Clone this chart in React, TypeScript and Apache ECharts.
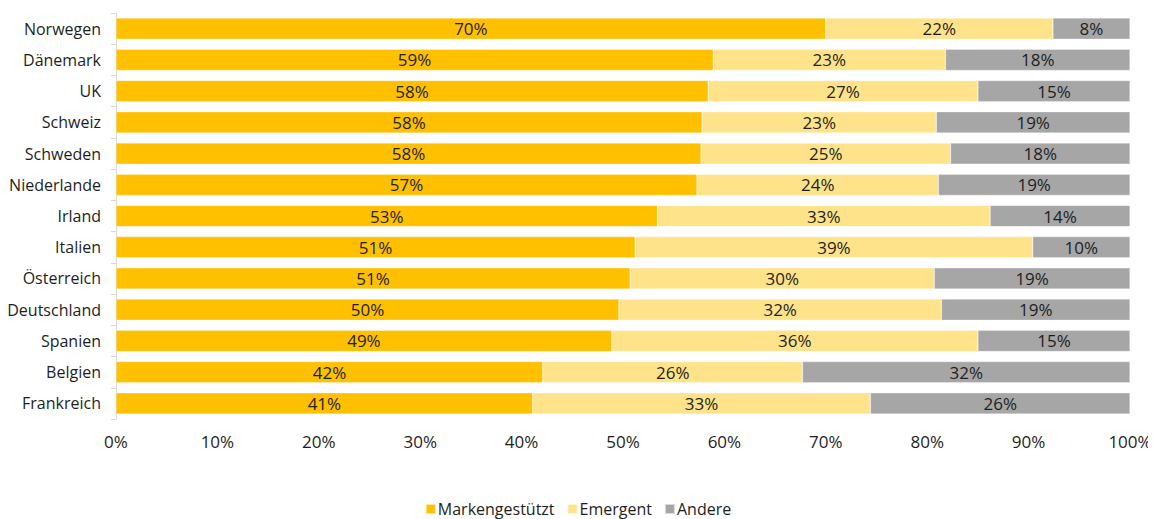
import React, { useEffect, useRef } from "react";
import * as echarts from "echarts";

const categories = [
  "Norwegen", "Dänemark", "UK", "Schweiz", "Schweden", "Niederlande", "Irland",
  "Italien", "Österreich", "Deutschland", "Spanien", "Belgien", "Frankreich",
];
const markengestuetzt = [70.0, 58.9, 58.4, 57.8, 57.7, 57.3, 53.4, 51.2, 50.7, 49.6, 48.9, 42.1, 41.1];
const emergent = [22.4, 22.9, 26.6, 23.1, 24.6, 23.8, 32.8, 39.2, 30.0, 31.8, 36.1, 25.6, 33.3];
const andere = [7.6, 18.2, 15.0, 19.1, 17.7, 18.9, 13.8, 9.6, 19.3, 18.6, 15.0, 32.3, 25.6];
const xTicks = [0, 10, 20, 30, 40, 50, 60, 70, 80, 90, 100];

const FONT = "'Open Sans', 'Noto Sans', sans-serif";
const TXT = "#1e1e1e";
const FS = 16;
const FSP = 17;

export default function App() {
  const ref = useRef<HTMLDivElement>(null);
  useEffect(() => {
    if (!ref.current) return;
    const chart = echarts.init(ref.current, null, { renderer: "svg" });
    const mk = (name: string, data: number[], color: string) => ({
      name,
      type: "bar",
      stack: "total",
      data,
      barWidth: "68%",
      itemStyle: { color, borderColor: "rgba(255,255,255,0.6)", borderWidth: 0.5 },
      label: {
        show: true,
        position: "inside",
        formatter: (p: any) => Math.round(p.value) + "%",
        color: TXT,
        fontSize: FSP,
        fontFamily: FONT,
      },
    });
    chart.setOption({
      animation: false,
      textStyle: { fontFamily: FONT },
      grid: { left: 116, right: 26, top: 13, bottom: 100, containLabel: false },
      legend: {
        bottom: -3,
        left: "center",
        itemWidth: 10,
        itemHeight: 10,
        itemGap: 12,
        icon: "rect",
        textStyle: { fontSize: FS, color: TXT, fontFamily: FONT, padding: [0, 0, 0, -3] },
        data: ["Markengestützt", "Emergent", "Andere"],
      },
      xAxis: {
        type: "value",
        min: 0,
        max: 100,
        interval: 10,
        axisLine: { show: false },
        axisTick: { show: false },
        splitLine: { show: false },
        axisLabel: {
          formatter: (v: number) => (xTicks.includes(v) ? v + "%" : ""),
          fontSize: FSP,
          color: TXT,
          fontFamily: FONT,
          margin: 14,
        },
      },
      yAxis: {
        type: "category",
        data: categories,
        inverse: true,
        axisLine: { show: true, lineStyle: { color: "#d9d9d9", width: 1 } },
        axisTick: { show: true, length: 5, lineStyle: { color: "#d9d9d9" } },
        axisLabel: { fontSize: FS, color: TXT, fontFamily: FONT, margin: 15 },
      },
      series: [
        mk("Markengestützt", markengestuetzt, "#FFC000"),
        mk("Emergent", emergent, "#FFE38A"),
        mk("Andere", andere, "#A6A6A6"),
      ],
    });
    return () => chart.dispose();
  }, []);
  return <div ref={ref} style={{ width: 1156, height: 519, margin: "-8px 0 0 -8px" }} />;
}
